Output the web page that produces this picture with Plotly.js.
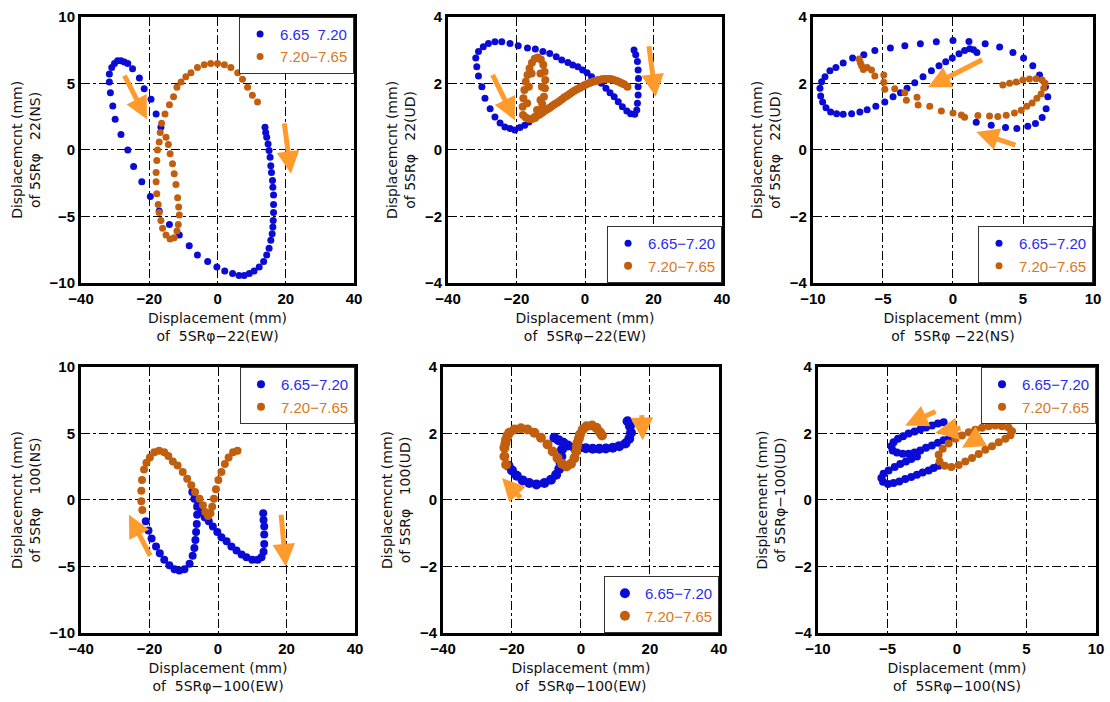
<!DOCTYPE html>
<html><head><meta charset="utf-8">
<script src="https://cdn.plot.ly/plotly-3.0.1.min.js"></script>
<style>html,body{margin:0;padding:0;background:#fff}#chart{width:1110px;height:702px}</style>
</head><body><div id="chart"></div>
<script>
// ---------- DATA ----------
const seriesNames = ['6.65−7.20', '7.20−7.65'];
const seriesNamesP1 = ['6.65  7.20', '7.20−7.65'];

const p1BlueX = [13.9,14.1,14.4,14.8,15.1,15.4,15.6,15.8,16.1,16.2,16.4,16.4,16.4,16.3,16.2,16.0,15.6,15.1,14.4,13.5,12.2,10.7,9.3,7.8,6.3,4.4,2.1,-0.2,-2.9,-5.9,-8.3,-11.2,-14.1,-17.1,-19.7,-22.2,-24.6,-26.3,-28.3,-30.0,-30.7,-31.4,-31.7,-31.7,-31.0,-30.2,-29.3,-28.3,-27.3,-26.3,-24.9,-22.9,-21.5,-19.5,-18.0,-16.6];
const p1BlueY = [1.7,1.3,0.95,0.45,-0.05,-0.55,-1.2,-1.7,-2.3,-2.8,-3.4,-4.1,-4.7,-5.3,-5.8,-6.3,-6.8,-7.4,-7.9,-8.4,-8.8,-9.1,-9.3,-9.45,-9.45,-9.3,-9.1,-8.8,-8.4,-7.9,-7.2,-6.4,-5.6,-4.6,-3.5,-2.4,-1.25,0,1.15,2.3,3.3,4.3,5.1,5.7,6.2,6.5,6.7,6.7,6.6,6.5,6.1,5.4,4.6,3.8,2.7,1.7];
const p1OrangeX = [11.7,10.2,8.8,7.3,5.9,3.9,2.0,0,-2.0,-3.9,-5.9,-7.8,-9.3,-10.7,-11.9,-12.9,-14.1,-15.4,-16.4,-16.8,-17.1,-17.6,-17.8,-18.0,-18.0,-17.8,-17.4,-17.1,-16.6,-16.1,-15.1,-13.9,-12.7,-11.9,-11.5,-11.2,-11.4,-11.7,-12.2,-12.7,-13.2,-13.9,-14.4,-15.1];
const p1OrangeY = [3.6,4.1,4.7,5.3,5.8,6.2,6.4,6.5,6.5,6.4,6.2,5.8,5.5,5.1,4.7,4.0,3.4,2.7,2.0,1.3,0.6,0,-0.8,-1.7,-2.4,-3.3,-4.1,-4.7,-5.3,-5.9,-6.4,-6.7,-6.6,-6.1,-5.6,-4.9,-4.3,-3.6,-2.6,-1.8,-1.05,-0.3,0.4,0.95];

const p2BlueX = [14.3,14.8,15.3,15.5,15.6,15.5,15.5,15.3,15.1,14.5,13.3,12.2,10.9,9.7,8.5,7.3,6.1,4.8,3.5,1.9,0.6,-0.7,-2.1,-3.6,-5.0,-6.8,-8.4,-10.3,-12.3,-14.5,-16.8,-19.5,-21.9,-24.3,-26.3,-28.2,-29.7,-31.1,-31.9,-31.6,-31.1,-30.1,-29.2,-27.7,-26.3,-24.8,-23.4,-21.9,-20.5,-19.0,-17.6,-16.4];
const p2BlueY = [3.0,2.86,2.66,2.4,2.15,1.9,1.65,1.4,1.2,1.07,1.09,1.17,1.3,1.45,1.6,1.72,1.85,2.0,2.1,2.2,2.32,2.4,2.5,2.55,2.63,2.7,2.8,2.9,2.96,3.03,3.06,3.13,3.2,3.25,3.25,3.2,3.1,2.96,2.76,2.5,2.22,1.9,1.55,1.24,0.99,0.81,0.69,0.64,0.6,0.67,0.74,0.84];
const p2OrangeX = [-18.1,-18.2,-18.0,-17.7,-17.3,-16.8,-16.2,-15.5,-14.7,-13.8,-12.9,-12.2,-11.8,-11.6,-11.7,-12.0,-12.5,-13.1,-13.8,-14.6,-15.5,-16.4,-17.3,-16.9,-16.4,-15.6,-13.0,-12.6,-13.0,-14.0,-14.7,-13.9,-13.2,-12.5,-11.8,-11.0,-10.3,-9.6,-8.9,-8.1,-7.4,-6.7,-6.0,-5.2,-4.5,-3.8,-3.1,-2.3,-1.6,-0.9,-0.2,0.6,1.3,2.0,2.7,3.5,4.2,4.9,5.6,6.4,7.1,7.8,8.5,9.3,10.0,10.7,11.4,12.4];
const p2OrangeY = [1.05,1.3,1.55,1.8,2.05,2.25,2.45,2.62,2.74,2.78,2.72,2.56,2.35,2.1,1.85,1.6,1.38,1.18,1.04,0.96,0.93,0.93,0.97,1.4,1.9,2.3,2.3,1.9,1.5,1.2,0.99,1.03,1.07,1.12,1.17,1.22,1.27,1.32,1.37,1.42,1.47,1.52,1.58,1.63,1.68,1.73,1.78,1.82,1.86,1.9,1.94,1.98,2.01,2.04,2.06,2.08,2.1,2.12,2.13,2.13,2.13,2.12,2.1,2.07,2.04,2.0,1.97,1.9];

const p3BlueX = [-7.17,-6.37,-5.58,-4.47,-3.44,-2.33,-1.19,0,1.14,2.30,3.33,4.28,5.04,5.70,6.18,6.60,6.77,6.65,6.37,5.89,5.34,4.56,3.75,2.73,1.66,-7.84,-8.36,-8.79,-9.14,-9.38,-9.5,-9.45,-9.31,-9.07,-8.74,-8.31,-7.84,-7.24,-6.65,-6.13,-5.51,-4.87,-4.28,-3.75,-3.28,-2.73,-2.14,-1.54,-1.0,-0.52,-0.05,0.43,0.83,1.19,1.47,1.71];
const p3BlueY = [2.76,2.86,2.99,3.06,3.13,3.19,3.25,3.29,3.26,3.19,3.09,2.93,2.76,2.53,2.25,1.9,1.6,1.24,0.97,0.79,0.71,0.64,0.67,0.74,0.83,2.61,2.48,2.38,2.2,2.05,1.85,1.62,1.44,1.27,1.14,1.09,1.07,1.09,1.14,1.21,1.31,1.44,1.6,1.72,1.85,2.02,2.2,2.38,2.53,2.65,2.76,2.89,2.99,3.04,3.01,2.93];
const p3OrangeX = [-6.70,-6.62,-6.53,-6.4,-6.13,-5.82,-5.58,-4.94,-4.94,-4.87,-4.16,-3.44,-3.33,-2.57,-2.49,-1.66,-0.83,0,0.6,0.83,1.78,2.61,3.2,3.8,4.39,4.87,5.27,5.65,5.99,6.29,6.48,6.58,6.37,5.94,5.46,4.99,4.51,4.04,3.56];
const p3OrangeY = [2.73,2.63,2.53,2.42,2.48,2.4,2.22,2.25,2.03,1.82,1.84,1.72,1.49,1.58,1.35,1.31,1.17,1.11,1.05,0.98,1.03,1.02,1.0,1.04,1.11,1.19,1.31,1.41,1.55,1.68,1.85,2.0,2.1,2.14,2.13,2.1,2.04,2.0,1.95];

const p4BlueX = [13.2,13.3,13.5,13.5,13.5,13.3,12.7,11.6,10.0,8.3,6.9,5.4,3.9,2.5,1.0,-0.2,-1.5,-2.7,-3.9,-4.9,-5.9,-6.9,-7.5,-6.1,-6.1,-6.2,-6.4,-6.6,-6.9,-7.4,-8.3,-9.8,-11.3,-12.7,-14.2,-15.7,-17.0,-18.1,-19.4,-20.3,-21.1];
const p4BlueY = [-1.0,-1.5,-2.0,-2.6,-3.3,-3.9,-4.3,-4.5,-4.5,-4.3,-4.1,-3.8,-3.5,-3.1,-2.8,-2.4,-2.0,-1.6,-1.3,-0.9,-0.4,0.1,0.6,-0.5,-1.1,-1.8,-2.4,-3.0,-3.6,-4.2,-4.8,-5.2,-5.3,-5.2,-4.9,-4.5,-4.0,-3.5,-2.9,-2.3,-1.6];
const p4OrangeX = [-22.1,-22.4,-22.4,-22.2,-21.6,-20.9,-19.9,-18.6,-17.2,-15.7,-14.5,-13.2,-11.8,-10.3,-9.0,-7.8,-6.7,-5.4,-4.4,-3.7,-2.9,-2.2,-1.7,-1.2,-0.6,0.1,1.0,2.0,3.1,4.4,5.7];
const p4OrangeY = [-0.75,-0.1,0.7,1.5,2.3,2.8,3.2,3.6,3.7,3.6,3.3,2.9,2.6,2.1,1.6,1.1,0.6,0.1,-0.4,-0.9,-1.2,-1.0,-0.5,0.1,0.8,1.5,2.1,2.7,3.2,3.6,3.7];

const p5BlueX = [13.5,14.2,14.5,14.0,12.9,11.1,9.2,7.2,5.3,3.4,1.4,-0.5,-1.9,-7.7,-6.5,-5.1,-3.8,-5.5,-5.7,-5.9,-6.3,-7.2,-8.7,-10.6,-12.9,-15.0,-16.9,-18.6,-20.0,-21.0];
const p5BlueY = [2.37,2.22,2.02,1.84,1.7,1.62,1.57,1.55,1.54,1.54,1.56,1.57,1.57,1.87,1.8,1.72,1.64,1.52,1.31,1.11,0.93,0.76,0.61,0.51,0.47,0.51,0.59,0.73,0.89,1.03];
const p5OrangeX = [-21.7,-22.2,-22.2,-21.9,-21.7,-21.3,-20.8,-19.3,-17.4,-15.5,-13.5,-11.6,-9.7,-8.2,-6.8,-5.5,-4.2,-2.9,-1.9,-1.4,-1.2,-1.0,-0.6,-0.3,0.5,1.6,3.2,4.5,5.5,6.1];
const p5OrangeY = [1.06,1.31,1.57,1.7,1.82,1.93,2.02,2.12,2.16,2.12,2.02,1.87,1.67,1.46,1.26,1.09,1.01,1.09,1.26,1.46,1.6,1.72,1.85,1.97,2.12,2.22,2.24,2.17,2.04,1.94];

const p6BlueX = [-0.96,-1.37,-1.8,-2.23,-2.64,-3.05,-3.48,-3.88,-4.24,-4.56,-4.72,-4.63,-4.32,-3.91,-3.48,-3.05,-2.64,-2.23,-1.8,-1.37,-0.96,-0.55,-0.12,-1.32,-1.68,-2.04,-2.47,-2.88,-3.29,-3.72,-4.15,-4.56,-4.96,-5.32,-5.44,-5.28,-4.92,-4.48,-4.08,-3.67,-3.29,-2.88];
const p6BlueY = [2.34,2.3,2.24,2.18,2.12,2.06,2.0,1.92,1.84,1.74,1.62,1.49,1.43,1.39,1.39,1.43,1.49,1.57,1.64,1.72,1.8,1.87,1.94,1.03,0.96,0.89,0.83,0.76,0.69,0.63,0.56,0.51,0.48,0.55,0.66,0.79,0.89,0.99,1.08,1.16,1.23,1.31];
const p6OrangeX = [-1.32,-1.25,-0.89,-0.41,0.12,0.6,1.08,1.56,2.04,2.52,3.0,3.48,3.84,3.96,3.72,3.24,2.76,2.28,1.8,1.32,0.84,0.36,-0.12,-0.6,-1.03];
const p6OrangeY = [1.36,1.16,1.03,0.99,1.05,1.16,1.26,1.38,1.51,1.62,1.74,1.84,1.95,2.07,2.17,2.22,2.24,2.22,2.17,2.11,2.04,1.94,1.84,1.7,1.54];

// arrows: [tailX, tailY, headX, headY]
const p1Arrows = [[-27.5,5.7,-20.7,2.3],[19.5,2.1,21.5,-1.8]];
const p2Arrows = [[-27.2,2.3,-20.5,0.89],[18.6,3.16,20.6,1.6]];
const p3Arrows = [[2.19,2.73,-1.78,1.88],[4.56,0.13,1.66,0.54]];
const p4Arrows = [[-19.6,-4.3,-26,-1.1],[18.4,-1.0,19.8,-5.0]];
const p5Arrows = [[-17.1,0.02,-22.9,0.66],[17.6,2.6,17.9,1.8]];
const p6Arrows = [[-1.44,2.68,-3.72,2.24],[0.36,2.17,-1.56,2.02],[1.56,1.87,0.36,1.57]];

const xTitles = ['Displacement (mm)<br>of  5SRφ−22(EW)','Displacement (mm)<br>of  5SRφ−22(EW)','Displacement (mm)<br>of  5SRφ −22(NS)','Displacement (mm)<br>of  5SRφ−100(EW)','Displacement (mm)<br>of  5SRφ−100(EW)','Displacement (mm)<br>of  5SRφ−100(NS)'];
const yTitles = ['Displacemcnt (mm)<br>of 5SRφ   22(NS)','Displacemcnt (mm)<br>of 5SRφ   22(UD)','Displacemcnt (mm)<br>of 5SRφ   22(UD)','Displacemcnt (mm)<br>of 5SRφ   100(NS)','Displacemcnt (mm)<br>of 5SRφ   100(UD)','Displacement (mm)<br>of 5SRφ−100(UD)'];

// ---------- STYLE / LAYOUT ----------
const BLUE = '#0b0bd6', ORANGE = '#c25f0e', ARROW = '#ff9a2c';
const LBLUE = '#2a2af0', LORANGE = '#d9781e';
const FONT = 'Liberation Sans, Arial, sans-serif';
const TFONT = 'DejaVu Sans, Verdana, sans-serif';

const panels = [
  {xd:[0.073,0.319], yd:[0.597,0.976], xr:[-40,40], yr:[-10,10], dx:20, dy:5, b:[p1BlueX,p1BlueY], o:[p1OrangeX,p1OrangeY], names:seriesNamesP1, leg:{x:0.319,y:0.976,ya:'top'}, ms:[7,7], arrows:p1Arrows},
  {xd:[0.4036,0.6505], yd:[0.597,0.976], xr:[-40,40], yr:[-4,4], dx:20, dy:2, b:[p2BlueX,p2BlueY], o:[p2OrangeX,p2OrangeY], names:seriesNames, leg:{x:0.6505,y:0.597,ya:'bottom'}, ms:[7,8], arrows:p2Arrows},
  {xd:[0.7324,0.9847], yd:[0.597,0.976], xr:[-10,10], yr:[-4,4], dx:5, dy:2, b:[p3BlueX,p3BlueY], o:[p3OrangeX,p3OrangeY], names:seriesNames, leg:{x:0.9847,y:0.597,ya:'bottom'}, ms:[7,7], arrows:p3Arrows},
  {xd:[0.073,0.3198], yd:[0.0983,0.4772], xr:[-40,40], yr:[-10,10], dx:20, dy:5, b:[p4BlueX,p4BlueY], o:[p4OrangeX,p4OrangeY], names:seriesNames, leg:{x:0.3198,y:0.4772,ya:'top'}, ms:[8,8], arrows:p4Arrows},
  {xd:[0.3991,0.6477], yd:[0.0983,0.4772], xr:[-40,40], yr:[-4,4], dx:20, dy:2, b:[p5BlueX,p5BlueY], o:[p5OrangeX,p5OrangeY], names:seriesNames, leg:{x:0.6477,y:0.0983,ya:'bottom'}, ms:[10,10], arrows:p5Arrows},
  {xd:[0.7369,0.9874], yd:[0.0983,0.4772], xr:[-10,10], yr:[-4,4], dx:5, dy:2, b:[p6BlueX,p6BlueY], o:[p6OrangeX,p6OrangeY], names:seriesNames, leg:{x:0.9874,y:0.4772,ya:'top'}, ms:[8,8], arrows:p6Arrows}
];

const data = [];
const layout = {
  width:1110, height:702, margin:{l:0,r:0,t:0,b:0},
  paper_bgcolor:'#fff', plot_bgcolor:'#fff',
  font:{family:FONT, color:'#111'},
  showlegend:true, annotations:[]
};

panels.forEach((p,i) => {
  const n = i+1, sx = n===1?'':String(n);
  const xa = 'x'+sx, ya = 'y'+sx, lg = 'legend'+sx;
  data.push({x:p.b[0], y:p.b[1], xaxis:xa, yaxis:ya, mode:'markers', type:'scatter', legend:lg,
    name:'<span style="color:'+LBLUE+'">'+p.names[0]+'</span>',
    marker:{color:BLUE, size:p.ms[0]}, hoverinfo:'skip'});
  data.push({x:p.o[0], y:p.o[1], xaxis:xa, yaxis:ya, mode:'markers', type:'scatter', legend:lg,
    name:'<span style="color:'+LORANGE+'">'+p.names[1]+'</span>',
    marker:{color:ORANGE, size:p.ms[1]}, hoverinfo:'skip'});
  const common = {showgrid:true, gridcolor:'#000', gridwidth:1, griddash:'dashdot', zeroline:false,
    showline:true, linecolor:'#000', linewidth:3, mirror:true, ticks:'', automargin:false, fixedrange:true,
    tickfont:{family:FONT, size:15, color:'#000', weight:'bold'}};
  layout['xaxis'+sx] = Object.assign({}, common, {domain:p.xd, range:p.xr, dtick:p.dx, tick0:0, anchor:ya,
    title:{text:xTitles[i], font:{family:TFONT, size:14, color:'#111'}, standoff:8}});
  layout['yaxis'+sx] = Object.assign({}, common, {domain:p.yd, range:p.yr, dtick:p.dy, tick0:0, anchor:xa,
    title:{text:yTitles[i], font:{family:TFONT, size:14, color:'#111'}, standoff:6}});
  layout[lg] = {x:p.leg.x, y:p.leg.y, xanchor:'right', yanchor:p.leg.ya, xref:'paper', yref:'paper',
    bgcolor:'#fff', bordercolor:'#333', borderwidth:1, font:{family:FONT, size:15}, itemclick:false};
  p.arrows.forEach(a => layout.annotations.push({xref:xa, yref:ya, axref:xa, ayref:ya,
    x:a[2], y:a[3], ax:a[0], ay:a[1], text:'', showarrow:true, arrowhead:2, arrowsize:0.9,
    arrowwidth:5, arrowcolor:ARROW}));
});

Plotly.newPlot('chart', data, layout, {staticPlot:true, displayModeBar:false});
</script></body></html>
